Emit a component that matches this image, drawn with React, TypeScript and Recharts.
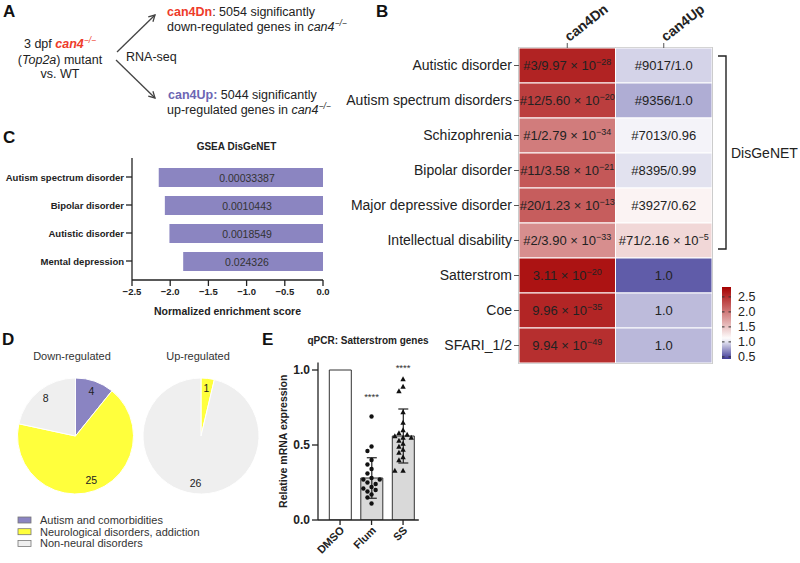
import React from 'react';
import {
  BarChart, Bar, XAxis, YAxis, Cell, LabelList, ReferenceArea,
  PieChart, Pie, ComposedChart, Scatter, ErrorBar,
} from 'recharts';

const FONT = '"Liberation Sans", Arial, Helvetica, sans-serif';
const INK = '#222';
const RED = '#ee3b2a';
const PURPLE_TXT = '#6c66b4';

// ---------------- Panel B : heatmap ----------------
const heatRows = [
  'Autistic disorder', 'Autism spectrum disorders', 'Schizophrenia', 'Bipolar disorder',
  'Major depressive disorder', 'Intellectual disability', 'Satterstrom', 'Coe', 'SFARI_1/2',
];
const heatColumns = ['can4Dn', 'can4Up'];
const dnScores = [2.59, 2.41, 1.99, 2.23, 2.2, 1.87, 2.7, 2.58, 2.51];
const upScores = [0.95, 0.82, 1.06, 1.0, 1.18, 1.37, 0.545, 0.87, 0.86];
const dnLabels = [
  '#3/9.97 × 10^−28', '#12/5.60 × 10^−20', '#1/2.79 × 10^−34', '#11/3.58 × 10^−21',
  '#20/1.23 × 10^−13', '#2/3.90 × 10^−33', '3.11 × 10^−20', '9.96 × 10^−35', '9.94 × 10^−49',
];
const upLabels = [
  '#9017/1.0', '#9356/1.0', '#7013/0.96', '#8395/0.99', '#3927/0.62',
  '#71/2.16 × 10^−5', '1.0', '1.0', '1.0',
];
const colorbarTicks = [0.5, 1.0, 1.5, 2.0, 2.5];
const colorbarRange = [0.43, 2.83];

// ---------------- Panel C : GSEA ----------------
const gseaTerms = ['Autism spectrum disorder', 'Bipolar disorder', 'Autistic disorder', 'Mental depression'];
const gseaNES = [-2.15, -2.07, -2.01, -1.83];
const gseaP = ['0.00033387', '0.0010443', '0.0018549', '0.024326'];
const nesTicks = [-2.5, -2.0, -1.5, -1.0, -0.5, 0.0];

// ---------------- Panel D : pies ----------------
const pieCategories = ['Autism and comorbidities', 'Neurological disorders, addiction', 'Non-neural disorders'];
const downCounts = [4, 25, 8];
const upCounts = [0, 1, 26];
const pieTitles = ['Down-regulated', 'Up-regulated'];
const PIE_COLORS = ['#8a84c2', '#ffff3c', '#efefef'];

// ---------------- Panel E : qPCR ----------------
const qpcrGroups = ['DMSO', 'Flum', 'SS'];
const qpcrMeans = [1.0, 0.28, 0.56];
const qpcrSD = [0, 0.135, 0.18];
const flumPoints = [0.69, 0.49, 0.46, 0.40, 0.37, 0.34, 0.31, 0.28, 0.27, 0.27, 0.25, 0.24, 0.22, 0.21, 0.20, 0.19, 0.17, 0.15, 0.11];
const ssPoints = [0.94, 0.89, 0.86, 0.72, 0.65, 0.60, 0.58, 0.57, 0.56, 0.55, 0.55, 0.53, 0.51, 0.49, 0.47, 0.45, 0.42, 0.40, 0.33, 0.33];
const sigLabels = ['', '****', '****'];
const sigHeights = [0, 0.83, 1.02];
const exprTicks = [0, 0.5, 1.0];

// ---------------- helpers ----------------
const HEAT_STOPS: [number, number[]][] = [
  [0.43, [63, 58, 151]],
  [1.1, [255, 255, 255]],
  [2.83, [165, 0, 0]],
];
const rgb = (c: number[]) => `rgb(${c[0]},${c[1]},${c[2]})`;
function heatColor(v: number): string {
  const s = HEAT_STOPS;
  if (v <= s[0][0]) return rgb(s[0][1]);
  for (let i = 1; i < s.length; i++) {
    if (v <= s[i][0]) {
      const [a, ca] = s[i - 1];
      const [b, cb] = s[i];
      const t = (v - a) / (b - a);
      return rgb(ca.map((c, k) => Math.round(c + (cb[k] - c) * t)));
    }
  }
  return rgb(s[s.length - 1][1]);
}

const heatTable = heatRows.map((name, i) => ({
  name, dn: 1, up: 1,
  dnScore: dnScores[i], upScore: upScores[i],
  dnLabel: dnLabels[i], upLabel: upLabels[i],
}));

const gseaTable = gseaTerms.map((term, i) => ({ term, nes: gseaNES[i], p: gseaP[i] }));

const pieData = (counts: number[]) =>
  pieCategories.map((name, i) => ({ name, value: counts[i], color: PIE_COLORS[i] })).filter(d => d.value > 0);

const qpcrTable = qpcrGroups.map((g, i) => ({ x: i, g, mean: qpcrMeans[i], sd: qpcrSD[i] }));

// beeswarm placement (px per unit on each axis)
function swarm(values: number[], center: number, pxX: number, pxY: number, minDist: number, step: number) {
  const placed: { x: number; y: number }[] = [];
  values.forEach(v => {
    for (let k = 0; k < 20; k++) {
      const off = k === 0 ? 0 : (k % 2 ? -1 : 1) * Math.ceil(k / 2) * step;
      const x = center + off;
      const ok = placed.every(p => Math.hypot((p.x - x) * pxX, (p.y - v) * pxY) >= minDist);
      if (ok || k === 19) { placed.push({ x, y: v }); break; }
    }
  });
  return placed;
}
const flumData = swarm(flumPoints, 1, 31.5, 150, 4.6, 0.13);
const ssData = swarm(ssPoints, 2, 31.5, 150, 4.6, 0.13);
const starData = qpcrGroups.map((g, i) => ({ x: i, y: sigHeights[i], label: sigLabels[i] })).filter(d => d.label);

// ---------------- custom renderers ----------------
const CellText = (p: any) => {
  const [base, sup] = String(p.value).split('^');
  return (
    <text x={p.x + p.width / 2} y={p.y + p.height / 2 + 4.5} textAnchor="middle" fontSize={13} fill={INK} fontFamily={FONT}>
      {base}
      {sup ? <tspan dy={-5.5} fontSize={9}>{sup}</tspan> : null}
    </text>
  );
};

const ColumnTick = (p: any) => {
  const idx = Math.floor(p.payload.value);
  return (
    <text transform={`translate(${p.x + 2},${p.y + 1}) rotate(-38)`} fontSize={14} fontWeight="bold" fill={INK} fontFamily={FONT}>
      {heatColumns[idx]}
    </text>
  );
};

const TermTick = (p: any) => (
  <text x={p.x} y={p.y + 3.5} textAnchor="end" fontSize={9.5} fontWeight="bold" fill={INK} fontFamily={FONT}>
    {p.payload.value}
  </text>
);

const GseaLabel = (p: any) => {
  const right = Math.max(p.x, p.x + p.width);
  return (
    <text x={right - 76} y={p.y + p.height / 2 + 4} textAnchor="middle" fontSize={10.5} fill="#333" fontFamily={FONT}>
      {p.value}
    </text>
  );
};

const RAD = Math.PI / 180;
const pieLabel = (p: any) => {
  const r = p.outerRadius * 0.82;
  const x = p.cx + r * Math.cos(-p.midAngle * RAD);
  const y = p.cy + r * Math.sin(-p.midAngle * RAD);
  return (
    <text x={x} y={y + 3.5} textAnchor="middle" fontSize={10.5} fill={INK} fontFamily={FONT}>{p.value}</text>
  );
};

const GroupTick = (p: any) => (
  <text transform={`translate(${p.x + 5},${p.y + 4}) rotate(-45)`} textAnchor="end" fontSize={11} fontWeight="bold" fill={INK} fontFamily={FONT}>
    {qpcrGroups[p.payload.value]}
  </text>
);

const DotShape = (p: any) => <circle cx={p.cx} cy={p.cy} r={2.2} fill="#111" />;
const TriShape = (p: any) => {
  const s = 2.7;
  return <polygon points={`${p.cx},${p.cy - s} ${p.cx - s},${p.cy + s * 0.8} ${p.cx + s},${p.cy + s * 0.8}`} fill="#111" />;
};
const StarShape = (p: any) => (
  <text x={p.cx} y={p.cy + 4} textAnchor="middle" fontSize={9.5} fill="#333" fontFamily={FONT}>{p.payload.label}</text>
);

function Arrow({ x1, y1, x2, y2 }: { x1: number; y1: number; x2: number; y2: number }) {
  const a = Math.atan2(y2 - y1, x2 - x1);
  const L = 7, w = 0.5;
  const p1 = [x2 - L * Math.cos(a - w), y2 - L * Math.sin(a - w)];
  const p2 = [x2 - L * Math.cos(a + w), y2 - L * Math.sin(a + w)];
  return (
    <g stroke="#444" strokeWidth={1.3} fill="none">
      <line x1={x1} y1={y1} x2={x2} y2={y2} />
      <polyline points={`${p1[0]},${p1[1]} ${x2},${y2} ${p2[0]},${p2[1]}`} />
    </g>
  );
}

const abs = (left: number, top: number): React.CSSProperties => ({ position: 'absolute', left, top });

export default function App() {
  const cbTop = 287, cbH = 72, cbX = 722, cbW = 9;
  const cbY = (v: number) => cbTop + cbH - ((v - colorbarRange[0]) / (colorbarRange[1] - colorbarRange[0])) * cbH;
  const gradStops = Array.from({ length: 25 }, (_, i) => {
    const t = i / 24;
    const v = colorbarRange[1] - t * (colorbarRange[1] - colorbarRange[0]);
    return { off: t, c: heatColor(v) };
  });

  return (
    <div style={{ position: 'relative', width: 800, height: 563, background: '#fff', fontFamily: FONT, overflow: 'hidden' }}>
      <style>{'body{margin:0}'}</style>

      {/* Panel B heatmap */}
      <div style={abs(300, 0)}>
        <BarChart width={500} height={380} data={heatTable} layout="vertical" barCategoryGap={0}
          margin={{ top: 0, right: 88, bottom: 17, left: 0 }}>
          <XAxis type="number" orientation="top" domain={[0, 2]} ticks={[0.5, 1.5]} height={48} tickSize={5}
            axisLine={false} tickLine={{ stroke: '#555' }} tick={ColumnTick} interval={0} />
          <YAxis type="category" dataKey="name" width={219} tickSize={5} axisLine={false}
            tickLine={{ stroke: '#555' }} tick={{ fontSize: 14, fill: INK, fontFamily: FONT }} interval={0} />
          <Bar dataKey="dn" stackId="h" isAnimationActive={false} stroke="#fff" strokeWidth={1}>
            {heatTable.map((r, i) => <Cell key={i} fill={heatColor(r.dnScore)} />)}
            <LabelList dataKey="dnLabel" content={CellText} />
          </Bar>
          <Bar dataKey="up" stackId="h" isAnimationActive={false} stroke="#fff" strokeWidth={1}>
            {heatTable.map((r, i) => <Cell key={i} fill={heatColor(r.upScore)} />)}
            <LabelList dataKey="upLabel" content={CellText} />
          </Bar>
          <ReferenceArea x1={0} x2={2} fill="none" fillOpacity={0} stroke="#555" strokeWidth={1.2} />
        </BarChart>
      </div>

      {/* Panel C GSEA */}
      <div style={abs(0, 130)}>
        <BarChart width={340} height={200} data={gseaTable} layout="vertical"
          margin={{ top: 28, right: 17, bottom: 10, left: 0 }}>
          <XAxis type="number" domain={[-2.5, 0]} ticks={nesTicks} height={40} tickSize={6}
            axisLine={{ stroke: INK, strokeWidth: 1.3 }} tickLine={{ stroke: INK, strokeWidth: 1.3 }}
            tick={{ fontSize: 9.5, fontWeight: 'bold', fill: INK, fontFamily: FONT }}
            tickFormatter={(v: number) => v.toFixed(1).replace('-', '−')}
            label={{ value: 'Normalized enrichment score', position: 'insideBottom', offset: 5, fontSize: 10.5, fontWeight: 'bold', fill: INK, fontFamily: FONT }} />
          <YAxis type="category" dataKey="term" width={132} tickSize={6} padding={{ top: 5, bottom: 5 }}
            axisLine={{ stroke: INK, strokeWidth: 1.3 }} tickLine={{ stroke: INK, strokeWidth: 1.3 }}
            tick={TermTick} interval={0} />
          <Bar dataKey="nes" fill="#8b85c1" barSize={19} isAnimationActive={false}>
            <LabelList dataKey="p" content={GseaLabel} />
          </Bar>
        </BarChart>
      </div>

      {/* Panel D pies */}
      <div style={abs(0, 360)}>
        <PieChart width={260} height={140}>
          <Pie data={pieData(downCounts)} dataKey="value" cx={70.5} cy={71} outerRadius={58} startAngle={90} endAngle={-270}
            stroke="#fff" strokeWidth={1} label={pieLabel} labelLine={false} isAnimationActive={false}>
            {pieData(downCounts).map((d, i) => <Cell key={i} fill={d.color} />)}
          </Pie>
          <Pie data={pieData(upCounts)} dataKey="value" cx={196} cy={71} outerRadius={58} startAngle={90} endAngle={-270}
            stroke="#fff" strokeWidth={1} label={pieLabel} labelLine={false} isAnimationActive={false}>
            {pieData(upCounts).map((d, i) => <Cell key={i} fill={d.color} />)}
          </Pie>
        </PieChart>
      </div>

      {/* Panel E qPCR */}
      <div style={abs(248, 345)}>
        <ComposedChart width={200} height={218} data={qpcrTable} margin={{ top: 17.5, right: 29.2, bottom: 0, left: 0 }}>
          <XAxis type="number" dataKey="x" domain={[-0.7, 2.5]} ticks={[0, 1, 2]} height={43} tickSize={5}
            axisLine={{ stroke: INK, strokeWidth: 1.3 }} tickLine={{ stroke: INK, strokeWidth: 1.3 }} tick={GroupTick} interval={0} />
          <XAxis xAxisId="pts" type="number" dataKey="x" domain={[-0.7, 2.5]} hide />
          <YAxis type="number" domain={[0, 1.05]} ticks={exprTicks} allowDataOverflow width={70} tickSize={6}
            axisLine={{ stroke: INK, strokeWidth: 1.3 }} tickLine={{ stroke: INK, strokeWidth: 1.3 }}
            tick={{ fontSize: 12, fontWeight: 'bold', fill: INK, fontFamily: FONT }}
            tickFormatter={(v: number) => v.toFixed(1)}
            label={{ value: 'Relative mRNA expression', angle: -90, position: 'center', fontSize: 10.5, fontWeight: 'bold', fill: INK, fontFamily: FONT }} />
          <Bar dataKey="mean" barSize={22} stroke="#333" strokeWidth={1} isAnimationActive={false}>
            {qpcrTable.map((d, i) => <Cell key={i} fill={i === 0 ? '#ffffff' : '#d9d9d9'} />)}
            <ErrorBar dataKey="sd" width={5} stroke="#222" strokeWidth={1.2} direction="y" />
          </Bar>
          <Scatter xAxisId="pts" data={flumData} dataKey="y" shape={DotShape} isAnimationActive={false} />
          <Scatter xAxisId="pts" data={ssData} dataKey="y" shape={TriShape} isAnimationActive={false} />
          <Scatter xAxisId="pts" data={starData} dataKey="y" shape={StarShape} isAnimationActive={false} />
        </ComposedChart>
      </div>

      {/* overlay: panel letters, diagram, legends, titles */}
      <svg width={800} height={563} style={{ position: 'absolute', left: 0, top: 0, pointerEvents: 'none' }} fontFamily={FONT}>
        <g fontSize={17} fontWeight="bold" fill="#111">
          <text x={3} y={17}>A</text>
          <text x={376} y={17}>B</text>
          <text x={3} y={143}>C</text>
          <text x={2} y={345}>D</text>
          <text x={262} y={345}>E</text>
        </g>

        {/* Panel A */}
        <g fontSize={12.5} fill={INK}>
          <text x={60} y={48} textAnchor="middle">3 dpf <tspan fill={RED} fontWeight="bold" fontStyle="italic">can4</tspan><tspan fill={RED} fontStyle="italic" fontSize={8.5} dy={-5}>−/−</tspan></text>
          <text x={60} y={63.5} textAnchor="middle">(<tspan fontStyle="italic">Top2a</tspan>) mutant</text>
          <text x={60} y={78} textAnchor="middle">vs. WT</text>
          <text x={126} y={61}>RNA-seq</text>
          <text x={167} y={16}><tspan fill={RED} fontWeight="bold">can4Dn</tspan>: 5054 significantly</text>
          <text x={167} y={31}>down-regulated genes in <tspan fontStyle="italic">can4</tspan><tspan fontStyle="italic" fontSize={8.5} dy={-5}>−/−</tspan></text>
          <text x={168} y={99}><tspan fill={PURPLE_TXT} fontWeight="bold">can4Up:</tspan> 5044 significantly</text>
          <text x={167} y={114}>up-regulated genes in <tspan fontStyle="italic">can4</tspan><tspan fontStyle="italic" fontSize={8.5} dy={-5}>−/−</tspan></text>
        </g>
        <Arrow x1={117} y1={52} x2={155} y2={15} />
        <Arrow x1={116} y1={60} x2={155} y2={98} />

        {/* Panel B bracket + colorbar */}
        <path d="M718,56 H726 V249 H718" stroke={INK} strokeWidth={1.4} fill="none" />
        <text x={731} y={157.5} fontSize={14} fill={INK}>DisGeNET</text>
        <defs>
          <linearGradient id="cb" x1="0" y1="0" x2="0" y2="1">
            {gradStops.map((s, i) => <stop key={i} offset={s.off} stopColor={s.c} />)}
          </linearGradient>
        </defs>
        <rect x={cbX} y={cbTop} width={cbW} height={cbH} fill="url(#cb)" />
        {colorbarTicks.map(t => (
          <g key={t}>
            <line x1={cbX} x2={cbX + 2.5} y1={cbY(t)} y2={cbY(t)} stroke="#333" strokeWidth={1} />
            <line x1={cbX + cbW - 2.5} x2={cbX + cbW} y1={cbY(t)} y2={cbY(t)} stroke="#333" strokeWidth={1} />
            <text x={738} y={cbY(t) + 4.5} fontSize={12.5} fill={INK}>{t.toFixed(1)}</text>
          </g>
        ))}

        {/* Titles */}
        <text x={236.5} y={149.5} textAnchor="middle" fontSize={10} fontWeight="bold" fill={INK}>GSEA DisGeNET</text>
        <text x={72} y={360} textAnchor="middle" fontSize={11} fill="#333">{pieTitles[0]}</text>
        <text x={198} y={360} textAnchor="middle" fontSize={11} fill="#333">{pieTitles[1]}</text>
        <text x={368} y={343.5} textAnchor="middle" fontSize={10} fontWeight="bold" fill={INK}>qPCR: Satterstrom genes</text>

        {/* Pie legend */}
        {pieCategories.map((c, i) => (
          <g key={c}>
            <rect x={18} y={517 + i * 11.7} width={13} height={6} fill={PIE_COLORS[i]} stroke="#777" strokeWidth={0.8} />
            <text x={40} y={524 + i * 11.7} fontSize={11} fill="#333">{c}</text>
          </g>
        ))}
      </svg>
    </div>
  );
}
